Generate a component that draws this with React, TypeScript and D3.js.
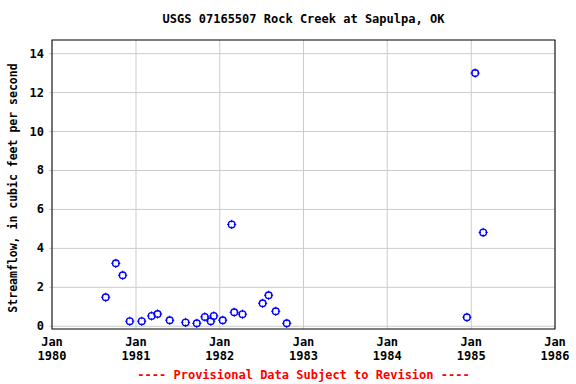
import React from "react";
import * as d3 from "d3";

const sampleDates = [
  "1980-08-22", "1980-10-05", "1980-11-04", "1980-12-05",
  "1981-01-26", "1981-03-10", "1981-04-05", "1981-05-28",
  "1981-08-05", "1981-09-23", "1981-10-28", "1981-11-23",
  "1981-12-06", "1982-01-14", "1982-02-22", "1982-03-05",
  "1982-04-10", "1982-07-07", "1982-08-02", "1982-09-02",
  "1982-10-20", "1984-12-13", "1985-01-18", "1985-02-22",
];
const flows = [
  1.49, 3.23, 2.62, 0.26,
  0.26, 0.53, 0.63, 0.31,
  0.2, 0.15, 0.48, 0.26,
  0.53, 0.31, 5.23, 0.72,
  0.62, 1.18, 1.59, 0.77,
  0.15, 0.46, 13.0, 4.82,
];
const yTicks = [0, 2, 4, 6, 8, 10, 12, 14];
const xTickYears = [1980, 1981, 1982, 1983, 1984, 1985, 1986];

const title = "USGS 07165507 Rock Creek at Sapulpa, OK";
const yLabel = "Streamflow, in cubic feet per second";
const footer = "---- Provisional Data Subject to Revision ----";

const W = 576, H = 384;
const m = { left: 52, right: 21, top: 40, bottom: 55 };
const font = "'DejaVu Sans Mono', monospace";

export default function App() {
  const x = d3.scaleTime()
    .domain([new Date(1980, 0, 1), new Date(1986, 0, 1)])
    .range([m.left, W - m.right]);
  const y = d3.scaleLinear()
    .domain([-0.14, 14.7])
    .range([H - m.bottom, m.top]);

  const pts = sampleDates.map((d, i) => ({ date: new Date(d + "T00:00:00"), v: flows[i] }));
  const cx = (m.left + W - m.right) / 2;

  return (
    <svg width={W} height={H} style={{ position: "absolute", left: 0, top: 0, background: "#fff" }}
      fontFamily={font} fontWeight="bold">
      <text x={cx} y={23} textAnchor="middle" fontSize={12}>{title}</text>
      {yTicks.map(t => (
        <g key={t}>
          <line x1={m.left - 3} x2={W - m.right} y1={y(t)} y2={y(t)} stroke="#cccccc" />
          <text x={m.left - 8} y={y(t) + 4} textAnchor="end" fontSize={12}>{t}</text>
        </g>
      ))}
      {xTickYears.map(yr => {
        const px = x(new Date(yr, 0, 1));
        return (
          <g key={yr}>
            <line x1={px} x2={px} y1={m.top} y2={H - m.bottom} stroke="#cccccc" />
            <text x={px} y={346} textAnchor="middle" fontSize={12}>Jan</text>
            <text x={px} y={360} textAnchor="middle" fontSize={12}>{yr}</text>
          </g>
        );
      })}
      <rect x={m.left} y={m.top} width={W - m.left - m.right} height={H - m.top - m.bottom}
        fill="none" stroke="#000" />
      {pts.map((p, i) => {
        const px = x(p.date), py = y(p.v);
        return (
          <g key={i} stroke="#0000ff" fill="none" strokeWidth={1.4}>
            <circle cx={px} cy={py} r={3.3} />
            <line x1={px} x2={px} y1={py - 4.6} y2={py + 4.6} strokeWidth={1} />
            <line x1={px - 4.6} x2={px + 4.6} y1={py} y2={py} strokeWidth={1} />
            <circle cx={px} cy={py} r={2.2} fill="#fff" stroke="none" />
          </g>
        );
      })}
      <text transform={`translate(17,188) rotate(-90)`}
        textAnchor="middle" fontSize={11.5}>{yLabel}</text>
      <text x={cx} y={379} textAnchor="middle" fontSize={12} fill="#ff0000">{footer}</text>
    </svg>
  );
}
